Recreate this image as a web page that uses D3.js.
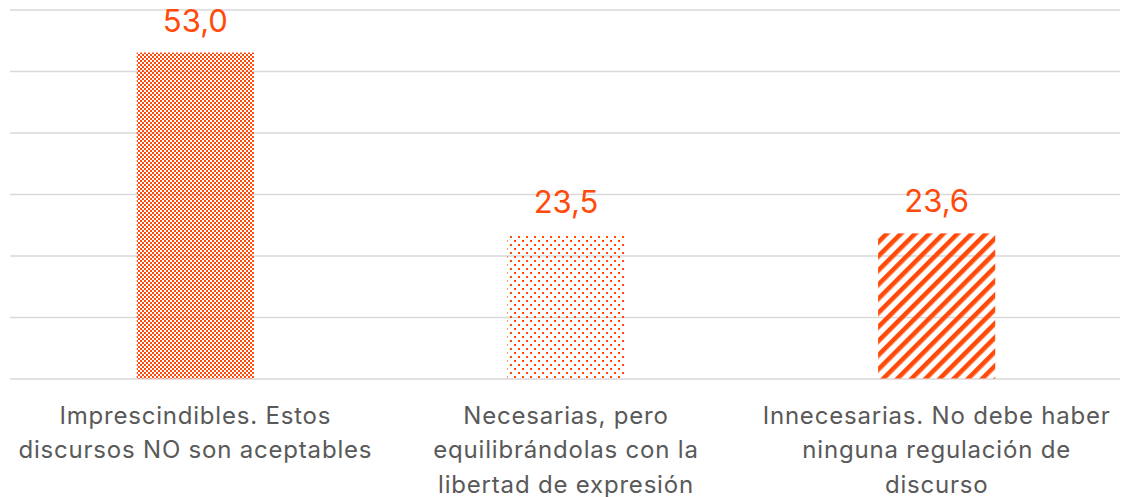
<!DOCTYPE html>
<html lang="es">
<head>
<meta charset="utf-8">
<title>Regulación de discursos</title>
<script src="https://cdn.jsdelivr.net/npm/d3@7"></script>
<style>
    body { margin: 0; background: #fff; }
    #chart1 { width: 1122px; height: 497px; }
    .cat-label { font-family: Inter, "Open Sans", sans-serif; font-size: 24px; letter-spacing: 0.8px; fill: #595959; }
    .val-label { font-family: Inter, "Open Sans", sans-serif; font-size: 31px; fill: #ff4a0a; }
</style>
</head>
<body>
<div id="chart1"></div>
<script>
    // data
    const categories = ["imprescindibles", "necesarias", "innecesarias"]
    const values = [53.0, 23.5, 23.6]
    const valueLabels = ["53,0", "23,5", "23,6"]
    const catLabels = [
        ["Imprescindibles. Estos", "discursos NO son aceptables"],
        ["Necesarias, pero", "equilibrándolas con la", "libertad de expresión"],
        ["Innecesarias. No debe haber", "ninguna regulación de", "discurso"]
    ]
    const yTicks = [0, 10, 20, 30, 40, 50, 60]

    const orange = "#ff4a0a"
    const width = 1122, height = 497
    const margin = {top: 9.5, right: 0, bottom: 118.5, left: 10}

    const svg = d3.select("#chart1").append("svg")
        .attr("width", width)
        .attr("height", height)

    // patterns
    const defs = svg.append("defs")

    const checker = defs.append("pattern")
        .attr("id", "pat-checker")
        .attr("patternUnits", "userSpaceOnUse")
        .attr("width", 4).attr("height", 4)
    checker.append("rect").attr("x", 0).attr("y", 0).attr("width", 2).attr("height", 2).attr("fill", orange)
    checker.append("rect").attr("x", 2).attr("y", 2).attr("width", 2).attr("height", 2).attr("fill", orange)

    const dots = defs.append("pattern")
        .attr("id", "pat-dots")
        .attr("patternUnits", "userSpaceOnUse")
        .attr("x", 2).attr("y", 0)
        .attr("width", 8).attr("height", 8)
    dots.append("rect").attr("x", 0).attr("y", 0).attr("width", 2).attr("height", 2).attr("fill", orange)
    dots.append("rect").attr("x", 4).attr("y", 4).attr("width", 2).attr("height", 2).attr("fill", orange)

    const stripes = defs.append("pattern")
        .attr("id", "pat-stripes")
        .attr("patternUnits", "userSpaceOnUse")
        .attr("width", 10).attr("height", 10)
        .attr("patternTransform", "rotate(45)")
    stripes.append("rect").attr("x", 0).attr("y", 0).attr("width", 4.6).attr("height", 10).attr("fill", orange)

    const fills = ["url(#pat-checker)", "url(#pat-dots)", "url(#pat-stripes)"]

    // scales
    const x = d3.scaleBand()
        .domain(categories)
        .range([margin.left, width - margin.right])
        .paddingInner(0.684)
        .paddingOuter(0.342)

    const y = d3.scaleLinear()
        .domain([0, 60])
        .range([height - margin.bottom, margin.top])

    // grid
    svg.append("g")
        .attr("transform", "translate(" + margin.left + ",0)")
        .call(d3.axisLeft(y)
            .tickValues(yTicks)
            .tickSize(-(width - margin.left - 2))
            .tickFormat(""))
        .call(g => g.select(".domain").remove())
        .selectAll(".tick line")
            .attr("stroke", "#d9d9d9")
            .attr("stroke-width", 1.5)

    // bars
    svg.selectAll(".bar")
        .data(categories)
        .enter()
        .append("rect")
        .attr("class", "bar")
        .attr("x", d => x(d))
        .attr("width", x.bandwidth())
        .attr("y", (d, i) => y(values[i]))
        .attr("height", (d, i) => y(0) - y(values[i]))
        .attr("fill", (d, i) => fills[i])

    // value labels
    svg.selectAll(".val-label")
        .data(categories)
        .enter()
        .append("text")
        .attr("class", "val-label")
        .attr("text-anchor", "middle")
        .attr("x", d => x(d) + x.bandwidth() / 2)
        .attr("y", (d, i) => y(values[i]) - 21)
        .text((d, i) => valueLabels[i])

    // category labels
    const cats = svg.selectAll(".cat-label")
        .data(categories)
        .enter()
        .append("text")
        .attr("class", "cat-label")
        .attr("text-anchor", "middle")
        .attr("transform", d => "translate(" + (x(d) + x.bandwidth() / 2) + "," + (y(0) + 45) + ")")

    cats.selectAll("tspan")
        .data((d, i) => catLabels[i])
        .enter()
        .append("tspan")
        .attr("x", 0)
        .attr("y", (d, j) => j * 34.5)
        .text(d => d)
</script>
</body>
</html>
